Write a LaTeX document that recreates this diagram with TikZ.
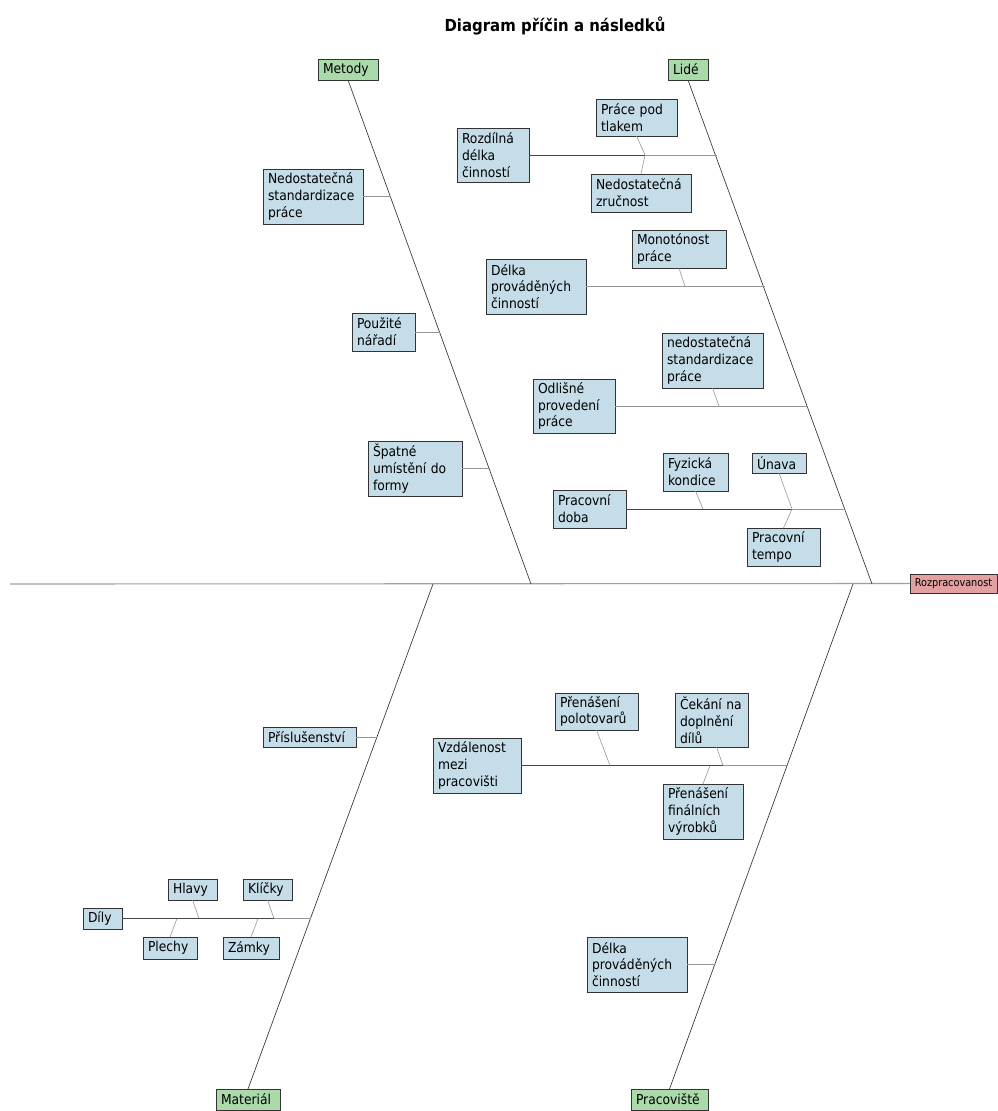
\documentclass[tikz,border=0pt]{standalone}
\usepackage{fontspec}
\newfontfamily\cf{DejaVu Sans Condensed}
\usetikzlibrary{calc}
\definecolor{causefill}{RGB}{197,221,233}
\definecolor{catfill}{RGB}{170,218,170}
\definecolor{effectfill}{RGB}{228,160,160}
\definecolor{spinecol}{RGB}{60,60,60}
\definecolor{mainline}{RGB}{160,160,160}
\definecolor{branchcol}{RGB}{150,150,150}
\definecolor{darkbranch}{RGB}{70,70,70}
\newcommand\cbox[7]{%
  \pgfmathsetmacro\bw{#5-#3}\pgfmathsetmacro\bh{#6-#4}\pgfmathsetmacro\tw{#5-#3-10}%
  \node[#1, minimum width=\bw pt, minimum height=\bh pt, text width=\tw pt] (#2) at (#3,#4) {#7};}
\begin{document}
\begin{tikzpicture}[x=1pt,y=-1pt,
  boxbase/.style={draw=black!80, line width=0.8pt, anchor=north west, inner xsep=5pt, inner ysep=1pt, align=left, outer sep=0pt},
  cause/.style={boxbase, fill=causefill, font=\cf\fontsize{13.7}{16.8}\selectfont},
  cat/.style={boxbase, fill=catfill, font=\cf\fontsize{13.7}{16.8}\selectfont},
  effect/.style={draw=black!80, line width=0.8pt, fill=effectfill, anchor=west, inner xsep=0pt, inner ysep=1pt, outer sep=0pt, font=\cf\fontsize{10.8}{13}\selectfont},
  spine/.style={draw=spinecol, line width=0.7pt},
  mainspine/.style={draw=mainline, line width=1.1pt},
  branch/.style={draw=branchcol, line width=0.7pt},
  darkbr/.style={draw=darkbranch, line width=0.8pt},
  sub/.style={draw=branchcol, line width=0.6pt}]
\useasboundingbox (0,0) rectangle (998,1111);
\node[font=\cf\bfseries\fontsize{16.6}{19}\selectfont] (title) at (555,26) {Diagram příčin a následků};
% categories and effect
\cbox{cat}{metody}{318}{59}{378}{80}{Metody}
\cbox{cat}{lide}{668}{59}{708}{80}{Lidé}
\cbox{cat}{material}{216}{1089}{280}{1110}{Materiál}
\cbox{cat}{pracoviste}{631}{1089}{708}{1110}{Pracoviště}
\node[effect, minimum width=87pt, minimum height=19pt, align=center] (rozp) at (910,583.5) {Rozpracovanost};
% causes: Metody
\cbox{cause}{c1}{263}{169}{363}{224}{Nedostatečná\\standardizace\\práce}
\cbox{cause}{c2}{352}{313}{415}{351}{Použité\\nářadí}
\cbox{cause}{c3}{368}{441}{462}{496}{Špatné\\umístění do\\formy}
% causes: Lidé
\cbox{cause}{c4}{457}{128}{529}{182}{Rozdílná\\délka\\činností}
\cbox{cause}{c4a}{596}{99}{677}{136}{Práce pod\\tlakem}
\cbox{cause}{c4b}{591}{174}{691}{212}{Nedostatečná\\zručnost}
\cbox{cause}{c5}{486}{259}{586}{314}{Délka\\prováděných\\činností}
\cbox{cause}{c5a}{632}{230}{726}{268}{Monotónost\\práce}
\cbox{cause}{c6}{533}{379}{615}{433}{Odlišné\\provedení\\práce}
\cbox{cause}{c6a}{662}{333}{763}{388}{nedostatečná\\standardizace\\práce}
\cbox{cause}{c7}{553}{490}{626}{528}{Pracovní\\doba}
\cbox{cause}{c7a}{663}{453}{728}{491}{Fyzická\\kondice}
\cbox{cause}{c7b}{752}{453}{806}{473}{Únava}
\cbox{cause}{c7c}{747}{528}{820}{566}{Pracovní\\tempo}
% causes: Materiál
\cbox{cause}{m1}{263}{727}{356}{747}{Příslušenství}
\cbox{cause}{m2}{83}{908}{122}{929}{Díly}
\cbox{cause}{m2a}{168}{879}{217}{900}{Hlavy}
\cbox{cause}{m2b}{243}{879}{292}{900}{Klíčky}
\cbox{cause}{m2c}{143}{937}{197}{959}{Plechy}
\cbox{cause}{m2d}{223}{937}{279}{959}{Zámky}
% causes: Pracoviště
\cbox{cause}{p1}{433}{738}{521}{793}{Vzdálenost\\mezi\\pracovišti}
\cbox{cause}{p1a}{555}{693}{638}{730}{Přenášení\\polotovarů}
\cbox{cause}{p1b}{675}{693}{748}{747}{Čekání na\\doplnění\\dílů}
\cbox{cause}{p1c}{663}{784}{743}{839}{Přenášení\\finálních\\výrobků}
\cbox{cause}{p2}{587}{937}{687}{992}{Délka\\prováděných\\činností}
% spine coordinates
\coordinate (tail) at (10,584);
\coordinate (J1) at (531,584);
\coordinate (J2) at (872,584);
\coordinate (J3) at (433,584);
\coordinate (J4) at (853,584);
% points on category spines
\coordinate (s1) at (391.2,196.5);
\coordinate (s2) at (440,332);
\coordinate (s3) at (489.1,468.5);
\coordinate (s4) at (717.1,155);
\coordinate (s5) at (764.7,286.5);
\coordinate (s6) at (808.1,406);
\coordinate (s7) at (844.9,509);
\coordinate (s8) at (377,737);
\coordinate (s9) at (310.7,918.5);
\coordinate (s10) at (786.7,765.5);
\coordinate (s11) at (714.5,964.5);
% junctions on branch lines
\coordinate (k4) at (645,155);
\coordinate (k5) at (685,286.5);
\coordinate (k6) at (719,406);
\coordinate (k7a) at (703,509);
\coordinate (k7b) at (792,509);
\coordinate (kma) at (199,918.5);
\coordinate (kmb) at (274,918.5);
\coordinate (kmc) at (177,918.5);
\coordinate (kmd) at (258,918.5);
\coordinate (kpa) at (610,765.5);
\coordinate (kpb) at (723,765.5);
\coordinate (kpc) at (710,765.5);
% main spine
\draw[mainspine] (tail) -- (rozp.west);
\draw[spine] (metody.south) -- (J1);
\draw[spine] (lide.south) -- (J2);
\draw[spine] (material.north) -- (J3);
\draw[spine] (pracoviste.north) -- (J4);
% branches
\draw[branch] (c1.east) -- (s1);
\draw[branch] (c2.east) -- (s2);
\draw[branch] (c3.east) -- (s3);
\draw[darkbr] (c4.east) -- (k4);
\draw[branch] (k4) -- (s4);
\draw[branch] (c5.east) -- (s5);
\draw[branch] (c6.east) -- (s6);
\draw[darkbr] (c7.east) -- (k7b);
\draw[branch] (k7b) -- (s7);
\draw[branch] (m1.east) -- (s8);
\draw[darkbr] (m2.east) -- (kmb);
\draw[branch] (kmb) -- (s9);
\draw[darkbr] (p1.east) -- (kpb);
\draw[branch] (kpb) -- (s10);
\draw[branch] (p2.east) -- (s11);
% sub-cause connectors
\draw[sub] (c4a.south) -- (k4);
\draw[sub] (c4b.north) -- (k4);
\draw[sub] (c5a.south) -- (k5);
\draw[sub] (c6a.south) -- (k6);
\draw[sub] (c7a.south) -- (k7a);
\draw[sub] (c7b.south) -- (k7b);
\draw[sub] (c7c.north) -- (k7b);
\draw[sub] (m2a.south) -- (kma);
\draw[sub] (m2b.south) -- (kmb);
\draw[sub] (m2c.north) -- (kmc);
\draw[sub] (m2d.north) -- (kmd);
\draw[sub] (p1a.south) -- (kpa);
\draw[sub] ($(p1b.south)+(5,0)$) -- (kpb);
\draw[sub] (p1c.north) -- (kpc);
\end{tikzpicture}
\end{document}
